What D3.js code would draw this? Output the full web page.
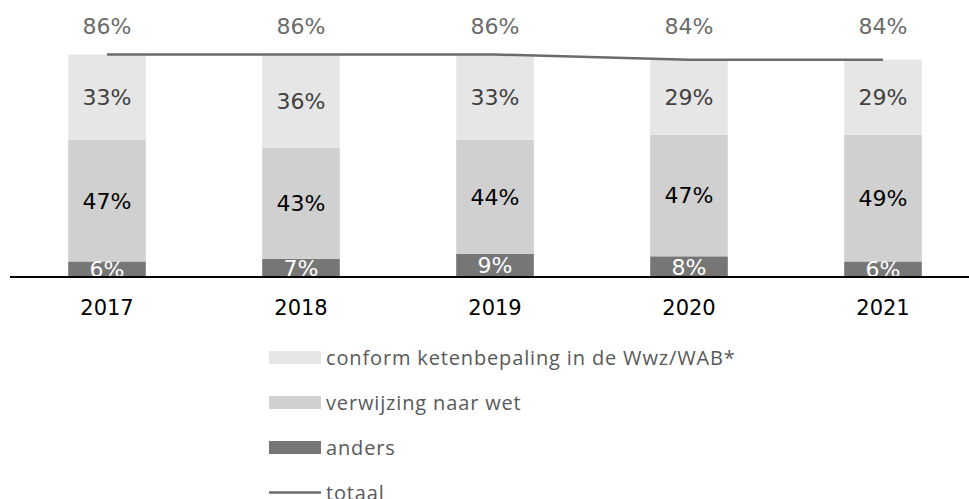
<!DOCTYPE html>
<html>
<head>
<meta charset="utf-8">
<script src="https://cdn.jsdelivr.net/npm/d3@7"></script>
<style>
  body { margin: 0; background: #fff; }
  svg { display: block; }
  .num { font-family: "DejaVu Sans", Verdana, sans-serif; font-size: 22px; }
  .yr { font-family: "DejaVu Sans", Verdana, sans-serif; font-size: 21px; }
  .leg { font-family: "Open Sans", sans-serif; font-size: 20px; letter-spacing: 0.85px; }
</style>
</head>
<body>
<div id="chart"></div>
<script>
// data (percentages)
var years = ["2017", "2018", "2019", "2020", "2021"];
var anders = [6, 7, 9, 8, 6];
var verwijzing = [47, 43, 44, 47, 49];
var conform = [33, 36, 33, 29, 29];
var totaal = [86, 86, 86, 84, 84];
var legendLabels = ["conform ketenbepaling in de Wwz/WAB*", "verwijzing naar wet", "anders", "totaal"];

var width = 969,
  height = 499;

var svg = d3.select("#chart").append("svg")
  .attr("width", width)
  .attr("height", height);

var x = d3.scaleBand().domain(years).range([10, 980])
  .paddingInner(0.6).paddingOuter(0.3);
var y = d3.scaleLinear().domain([0, 100]).range([277, 18.3]);

// series stacked bottom to top
var series = [
  { key: "anders", values: anders, fill: "#767676", text: "#ffffff" },
  { key: "verwijzing", values: verwijzing, fill: "#d0d0d0", text: "#000000" },
  { key: "conform", values: conform, fill: "#e6e6e6", text: "#404040" }
];

var rows = years.map(function(yr, i) {
  var r = { year: yr };
  series.forEach(function(s) { r[s.key] = s.values[i]; });
  return r;
});

var stacked = d3.stack().keys(series.map(function(s) { return s.key; }))(rows);

var layer = svg.selectAll(".layer")
  .data(stacked)
  .enter().append("g")
  .attr("class", "layer")
  .attr("fill", function(d, i) { return series[i].fill; });

layer.selectAll("rect")
  .data(function(d) { return d; })
  .enter().append("rect")
  .attr("x", function(d) { return x(d.data.year); })
  .attr("width", x.bandwidth())
  .attr("y", function(d) { return y(d[1]); })
  .attr("height", function(d) { return y(d[0]) - y(d[1]); });

// segment labels
stacked.forEach(function(s, i) {
  svg.append("g").selectAll("text")
    .data(s)
    .enter().append("text")
    .attr("class", "num")
    .attr("x", function(d) { return x(d.data.year) + x.bandwidth() / 2; })
    .attr("y", function(d) { return (y(d[0]) + y(d[1])) / 2; })
    .attr("dy", "0.36em")
    .attr("text-anchor", "middle")
    .attr("fill", series[i].text)
    .text(function(d) { return (d[1] - d[0]) + "%"; });
});

// axis line
svg.append("line")
  .attr("x1", 10).attr("x2", width)
  .attr("y1", y(0)).attr("y2", y(0))
  .attr("stroke", "#000")
  .attr("stroke-width", 2);

// year labels
svg.append("g").selectAll("text")
  .data(years)
  .enter().append("text")
  .attr("class", "yr")
  .attr("x", function(d) { return x(d) + x.bandwidth() / 2; })
  .attr("y", 315)
  .attr("text-anchor", "middle")
  .attr("fill", "#000")
  .text(function(d) { return d; });

// total line
var line = d3.line()
  .x(function(d, i) { return x(years[i]) + x.bandwidth() / 2; })
  .y(function(d) { return y(d); });

svg.append("path")
  .datum(totaal)
  .attr("d", line)
  .attr("fill", "none")
  .attr("stroke", "#6b6b6b")
  .attr("stroke-width", 2.5);

svg.append("g").selectAll("text")
  .data(totaal)
  .enter().append("text")
  .attr("class", "num")
  .attr("x", function(d, i) { return x(years[i]) + x.bandwidth() / 2; })
  .attr("y", 34)
  .attr("text-anchor", "middle")
  .attr("fill", "#6b6b6b")
  .text(function(d) { return d + "%"; });

// legend
var legendFills = ["#e6e6e6", "#d0d0d0", "#767676", null];
var legend = svg.append("g").attr("transform", "translate(269,0)");
legendLabels.forEach(function(lab, i) {
  var cy = 357.5 + i * 45;
  if (legendFills[i]) {
    legend.append("rect")
      .attr("x", 0).attr("y", cy - 6.5)
      .attr("width", 52).attr("height", 13)
      .attr("fill", legendFills[i]);
  } else {
    legend.append("line")
      .attr("x1", 0).attr("x2", 52)
      .attr("y1", cy).attr("y2", cy)
      .attr("stroke", "#6b6b6b").attr("stroke-width", 2.5);
  }
  legend.append("text")
    .attr("class", "leg")
    .attr("x", 57).attr("y", cy)
    .attr("dy", "0.35em")
    .attr("fill", "#595959")
    .text(lab);
});
</script>
</body>
</html>
